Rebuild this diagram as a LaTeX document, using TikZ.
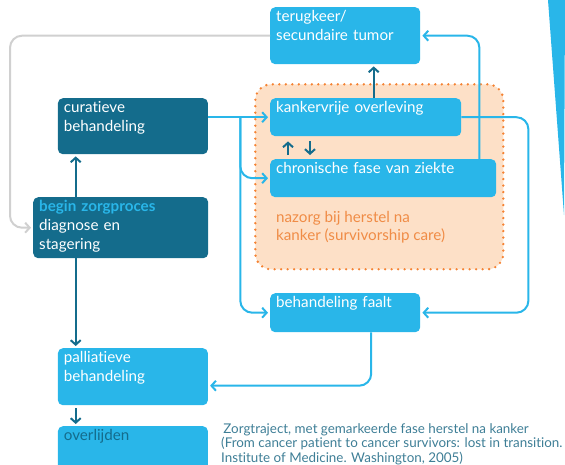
\documentclass[tikz,border=0pt]{standalone}
\usepackage{fontspec}
\setmainfont{Lato}[Ligatures=NoCommon]
\usetikzlibrary{arrows.meta,calc}

\definecolor{lblue}{RGB}{41,182,233}
\definecolor{dteal}{RGB}{20,108,140}
\definecolor{peach}{RGB}{253,224,199}
\definecolor{dorange}{RGB}{245,130,50}
\definecolor{torange}{RGB}{240,140,70}
\definecolor{lgrey}{RGB}{208,208,208}
\definecolor{capblue}{RGB}{62,126,150}

\tikzset{
  box/.style={fill=lblue, text=white, rounded corners=5pt, anchor=north west,
    align=left, inner xsep=6pt, inner ysep=3pt, text height=11pt},
  darkbox/.style={box, fill=dteal},
  link/.style={draw=lblue, line width=2pt, rounded corners=12pt,
    -{Straight Barb[length=4.5pt,width=10pt]}, shorten >=2pt},
  darklink/.style={link, draw=dteal},
  greylink/.style={link, draw=lgrey}
}

\begin{document}
\begin{tikzpicture}[x=1pt,y=-1pt,font=\fontsize{15.2}{19}\selectfont]
        \useasboundingbox (0,0) rectangle (565,464);

        \node[draw=dorange, fill=peach, dash pattern=on 0pt off 6.5pt, line cap=round,
          line width=2.6pt, rounded corners=16pt, anchor=north west, inner sep=0pt,
          minimum width=248pt, minimum height=185pt] (zorg) at (254,83) {};
        \node[anchor=north west, align=left, inner sep=0pt, text=torange,
          font=\fontsize{15.2}{18}\selectfont] (nazorg) at (276,211)
          {nazorg bij herstel na\\kanker (survivorship care)};

        \node[box, text width=138pt, text depth=40pt] (terug) at (270,7) {terugkeer/\\secundaire tumor};
        \node[darkbox, text width=138pt, text depth=39pt] (cura) at (57.7,98) {curatieve\\behandeling};
        \node[box, text width=179pt, text depth=21pt] (kvo) at (270,98) {kankervrije overleving};
        \node[box, text width=214pt, text depth=21pt] (chron) at (270,159) {chronische fase van ziekte};
        \node[darkbox, text width=163pt, text depth=44pt] (begin) at (33,197)
          {{\bfseries\color{lblue}begin zorgproces}\\diagnose en\\stagering};
        \node[box, text width=138pt, text depth=22pt] (faalt) at (270,293) {behandeling faalt};
        \node[box, text width=138pt, text depth=40pt] (pall) at (57.7,348) {palliatieve\\behandeling};
        \node[box, text=dteal, text width=138pt, text depth=29pt] (overl) at (57.7,426) {overlijden};

        \node[anchor=north west, align=left, inner sep=0pt, text=capblue,
          font=\fontsize{13.4}{14.5}\selectfont] (bron) at (221,423)
          {\,Zorgtraject, met gemarkeerde fase herstel na kanker\\(From cancer patient to cancer survivors: lost in transition.\\Institute of Medicine. Washington, 2005)};

        \fill[lblue] (548,0) -- (565,0) -- (564,215) -- cycle;

        \coordinate (spine) at ([xshift=18pt]cura.south west);
        \coordinate (split) at ($(cura.east |- kvo.west)!0.52!(kvo.west)$);
        \coordinate (rail) at ([xshift=67pt]kvo.east);
        \coordinate (back) at ([xshift=-17pt]chron.north east);

        \draw[greylink] (terug.west) -| ([xshift=-23pt]begin.west) -- (begin.west);

        \draw[darklink] (begin.north -| spine) -- (spine);
        \draw[darklink] (begin.south -| spine) -- (pall.north -| spine);
        \draw[darklink, shorten <=3pt] (pall.south -| spine) -- (overl.north -| spine);

        \draw[link] (cura.east |- kvo.west) -- (kvo.west);
        \draw[link] (split) |- (chron.west);
        \draw[link] (split) |- (faalt.west);
        \draw[link] (kvo.east) -- (rail) |- (faalt.east);
        \draw[link] (back) |- (terug.east);
        \draw[link] ([xshift=26pt]faalt.south) |- ([yshift=-9pt]pall.east);

        \draw[darklink] ([xshift=8pt]kvo.north) -- ([xshift=8pt]kvo.north |- terug.south);
        \draw[darklink, shorten >=0pt] ([xshift=18pt,yshift=4pt]chron.north west) -- ([xshift=18pt,yshift=-5pt]kvo.south west);
        \draw[darklink, shorten >=0pt] ([xshift=40pt,yshift=-5pt]kvo.south west) -- ([xshift=40pt,yshift=4pt]chron.north west);
    \end{tikzpicture}
\end{document}
